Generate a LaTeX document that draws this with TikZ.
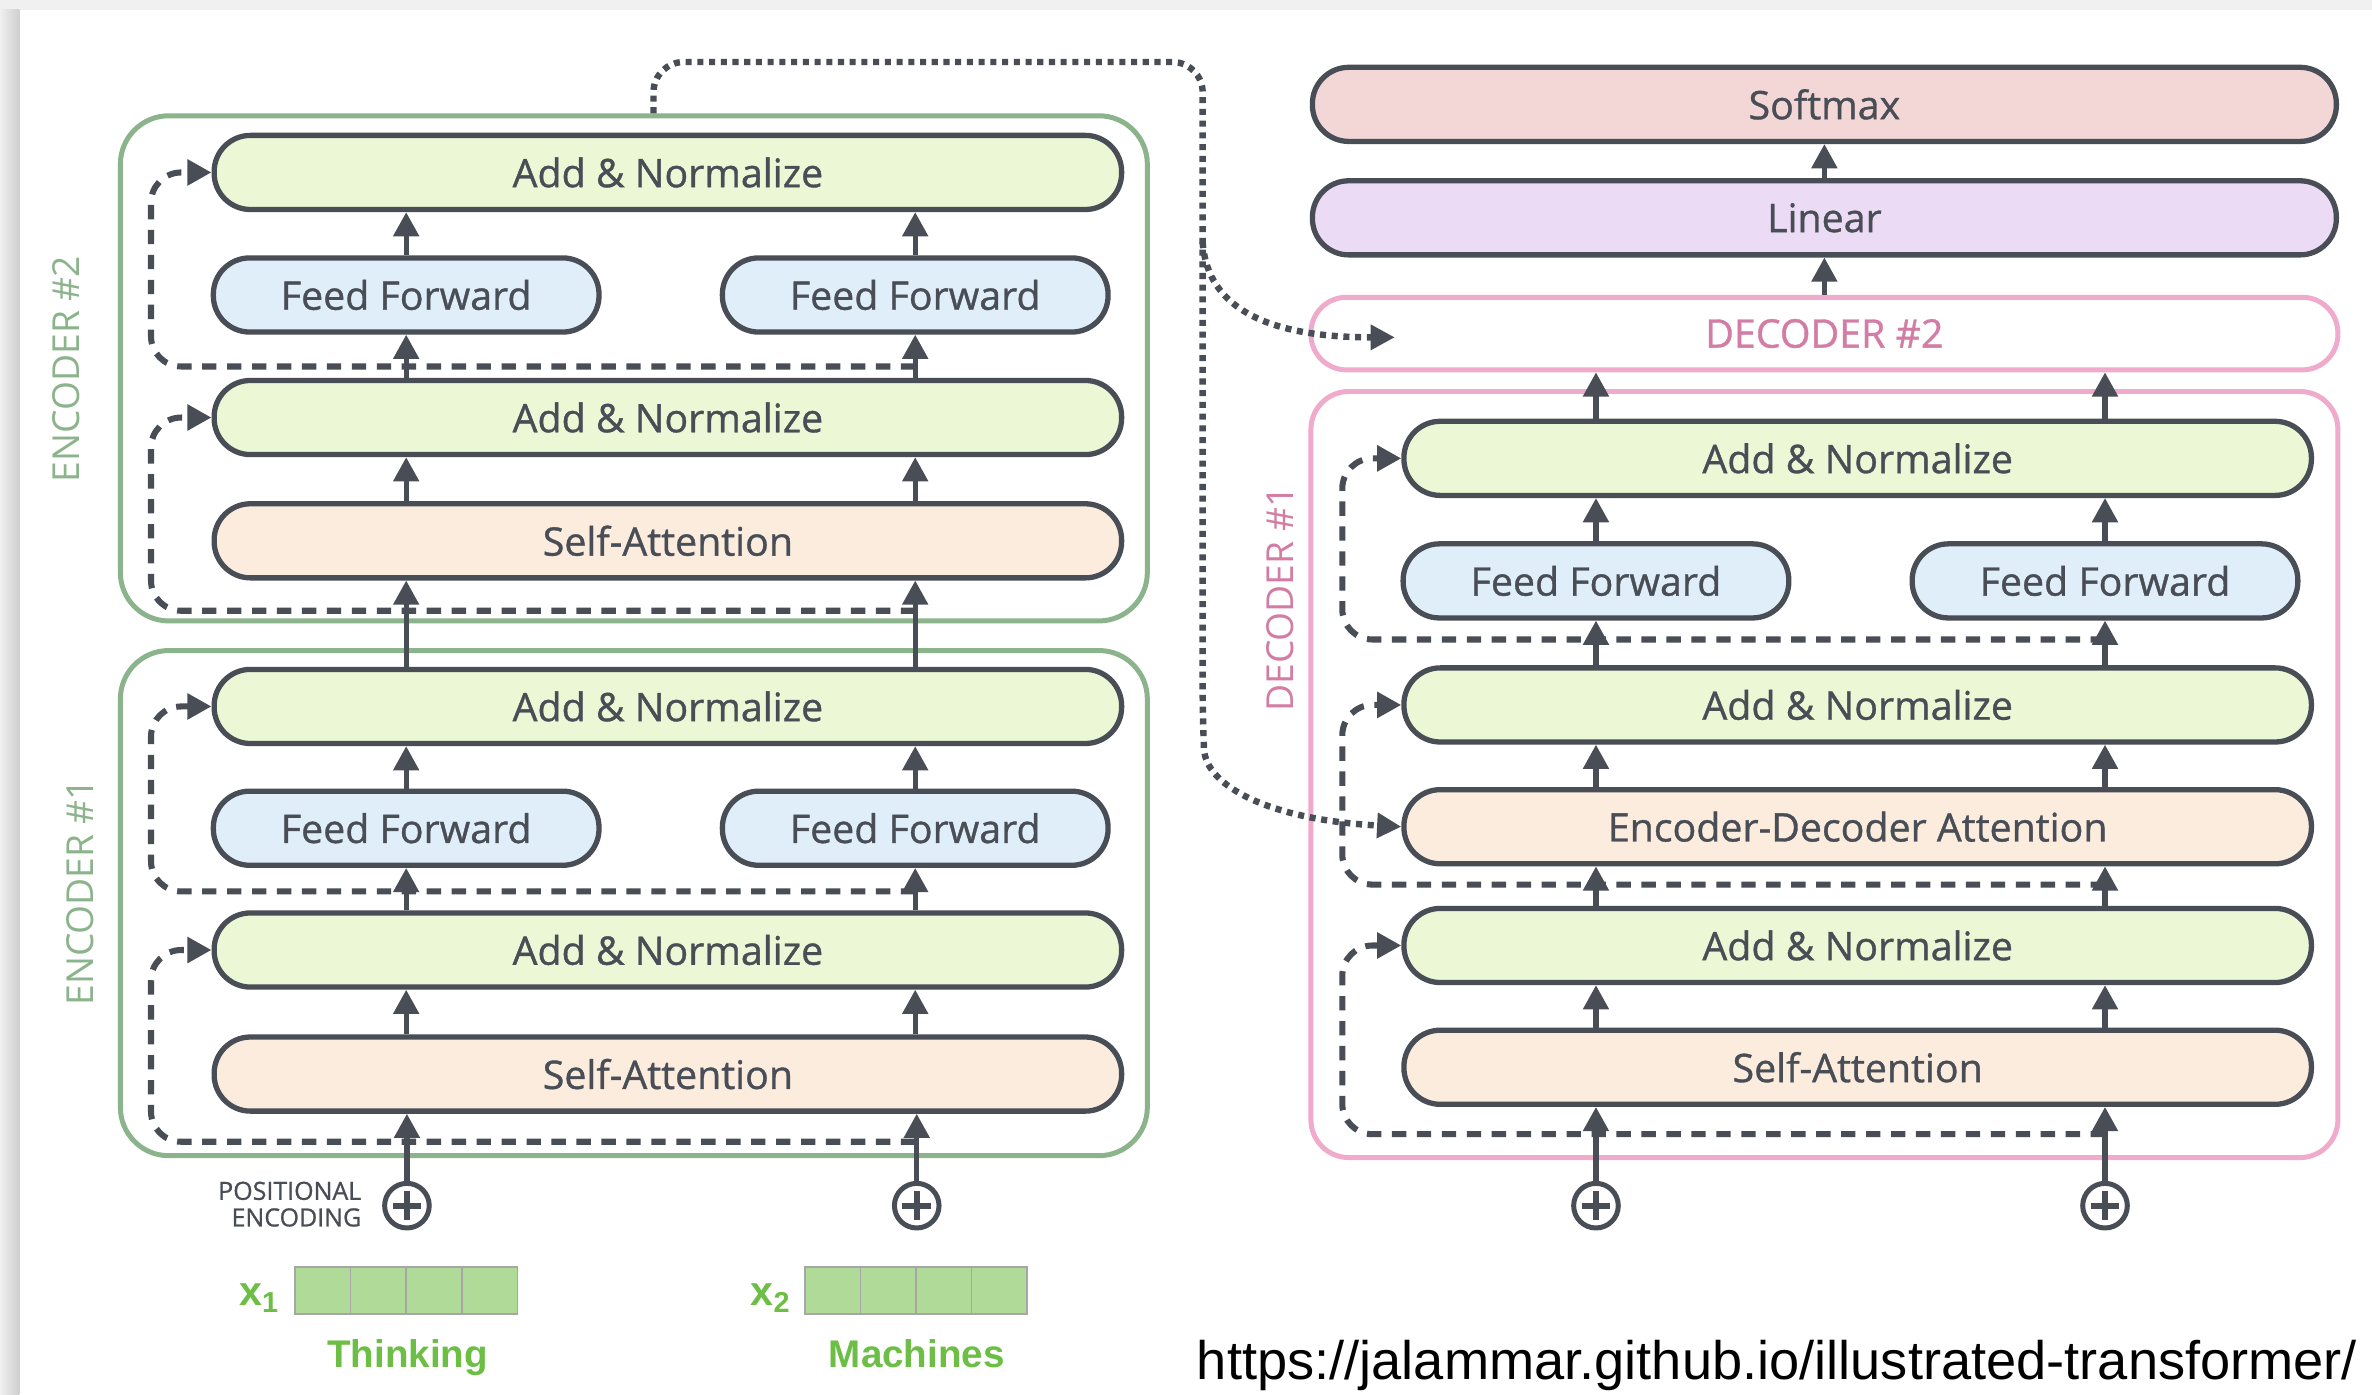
\documentclass[tikz,border=0pt]{standalone}
\usepackage{fontspec}
\setmainfont{Open Sans}
\newfontfamily\boxfont[FakeBold=0.9]{Open Sans}
\newfontfamily\urlfont{Liberation Sans}
\usetikzlibrary{arrows.meta}

\definecolor{linec}{RGB}{72,77,86}
\definecolor{addc}{RGB}{236,248,213}
\definecolor{ffc}{RGB}{224,238,249}
\definecolor{attc}{RGB}{251,236,222}
\definecolor{softc}{RGB}{243,214,214}
\definecolor{linc}{RGB}{236,219,245}
\definecolor{encc}{RGB}{140,180,140}
\definecolor{decc}{RGB}{240,170,204}
\definecolor{dectext}{RGB}{211,125,165}
\definecolor{vecc}{RGB}{176,218,152}
\definecolor{vectext}{RGB}{108,190,69}

\tikzset{
  pill/.style={draw=linec, line width=0.07cm, rounded corners=0.48cm, minimum height=0.98cm,
    inner sep=0pt, text=linec, font=\boxfont\fontsize{14.8}{16}\selectfont},
  addnorm/.style={pill, fill=addc, minimum width=12cm},
  selfatt/.style={pill, fill=attc, minimum width=12cm},
  ffwd/.style={pill, fill=ffc, minimum width=5.1cm},
  outbox/.style={pill, minimum width=13.54cm},
  encbox/.style={draw=encc, line width=0.066cm, rounded corners=0.64cm, minimum width=13.58cm,
    minimum height=6.68cm, inner sep=0pt},
  enclabel/.style={text=encc, rotate=90, font=\fontsize{14}{15}\selectfont},
  plusnode/.style={circle, draw=linec, line width=0.066cm, fill=white, minimum size=0.59cm, inner sep=0pt,
    path picture={\draw[linec, line width=0.075cm]
      (path picture bounding box.center) +(-0.19cm,0cm) -- +(0.19cm,0cm)
      (path picture bounding box.center) +(0cm,-0.19cm) -- +(0cm,0.19cm);}},
  cell/.style={draw=gray!70, line width=0.02cm, fill=vecc, minimum width=0.735cm, minimum height=0.62cm, inner sep=0pt},
  arr/.style={linec, line width=0.07cm, -{Triangle[length=0.32cm,width=0.33cm]}},
  resid/.style={linec, line width=0.08cm, dash pattern=on 0.19cm off 0.14cm, rounded corners=0.4cm,
    -{Triangle[length=0.32cm,width=0.33cm]}},
  dotline/.style={linec, line width=0.085cm, dash pattern=on 0.08cm off 0.075cm,
    -{Triangle[length=0.32cm,width=0.32cm]}}
}

\begin{document}
\begin{tikzpicture}[x=0.02cm,y=-0.02cm]
\useasboundingbox (0,0) rectangle (1568,922);
\fill[white] (0,0) rectangle (1568,922);
\fill[gray!12] (0,0) rectangle (1568,6.6);
\shade[left color=gray!12, right color=gray!38] (0,6.6) rectangle (12.8,922);

% encoder stack
\node[encbox] (enc2) at (419,243.5) {};
\node[encbox] (enc1) at (419,597) {};
\node[enclabel] at (44,244) {ENCODER \#2};
\node[enclabel] at (53,590) {ENCODER \#1};

\node[addnorm] (an2b) at (441.5,114) {Add \& Normalize};
\node[ffwd] (ff2l) at (268.5,195) {Feed Forward};
\node[ffwd] (ff2r) at (605,195) {Feed Forward};
\node[addnorm] (an2a) at (441.5,276) {Add \& Normalize};
\node[selfatt] (sa2) at (441.5,357.5) {Self-Attention};

\node[addnorm] (an1b) at (441.5,467) {Add \& Normalize};
\node[ffwd] (ff1l) at (268.5,547.5) {Feed Forward};
\node[ffwd] (ff1r) at (605,547.5) {Feed Forward};
\node[addnorm] (an1a) at (441.5,628) {Add \& Normalize};
\node[selfatt] (sa1) at (441.5,710) {Self-Attention};

\node[plusnode] (pe1) at (269,797) {};
\node[plusnode] (pe2) at (606,797) {};
\node[anchor=east, align=right, text=linec, font=\boxfont\fontsize{9.4}{10}\selectfont] (pelabel) at (245,796) {POSITIONAL\\ENCODING};

% input vectors
\foreach \i in {0,...,3} {
  \node[cell] (xa\i) at (213.4+\i*36.75,853) {};
  \node[cell] (xb\i) at (550.4+\i*36.75,853) {};
}
\node[anchor=base east, text=vectext, font=\urlfont\bfseries\fontsize{15.5}{16}\selectfont] (xone) at (191,863) {x\textsubscript{1}};
\node[anchor=base east, text=vectext, font=\urlfont\bfseries\fontsize{15.5}{16}\selectfont] (xtwo) at (529,863) {x\textsubscript{2}};
\node[anchor=base, text=vectext, font=\urlfont\bfseries\fontsize{14.5}{16}\selectfont] (think) at (269.5,904) {Thinking};
\node[anchor=base, text=vectext, font=\urlfont\bfseries\fontsize{14.5}{16}\selectfont] (mach) at (606,904) {Machines};

% decoder stack
\node[outbox, fill=softc] (softmax) at (1206,69) {Softmax};
\node[outbox, fill=linc] (linear) at (1206,144) {Linear};
\node[draw=decc, line width=0.066cm, rounded corners=0.47cm, minimum width=13.58cm, minimum height=0.96cm,
  inner sep=0pt, text=dectext, font=\boxfont\fontsize{14.8}{16}\selectfont] (dec2) at (1206,220.5) {DECODER \#2};
\node[draw=decc, line width=0.066cm, rounded corners=0.5cm, minimum width=13.58cm, minimum height=10.13cm,
  inner sep=0pt] (dec1) at (1206,512) {};
\node[enclabel, text=dectext] at (846,396) {DECODER \#1};
\coordinate (dec2in) at (922,223);

\node[addnorm] (ad3) at (1228,303) {Add \& Normalize};
\node[ffwd] (dffl) at (1055,384) {Feed Forward};
\node[ffwd] (dffr) at (1391.5,384) {Feed Forward};
\node[addnorm] (ad2) at (1228,466) {Add \& Normalize};
\node[selfatt] (eda) at (1228,546.5) {Encoder-Decoder Attention};
\node[addnorm] (ad1) at (1228,625) {Add \& Normalize};
\node[selfatt] (dsa) at (1228,705.5) {Self-Attention};

\node[plusnode] (pd1) at (1055,797) {};
\node[plusnode] (pd2) at (1391.5,797) {};

% residual connections
\draw[resid] ([yshift=0.15cm]an2a.north -| ff2r) -| ([xshift=-0.8cm]an2b.west) -- (an2b.west);
\draw[resid] ([yshift=-0.4cm]sa2.south -| ff2r) -| ([xshift=-0.8cm]an2a.west) -- (an2a.west);
\draw[resid] ([yshift=0.25cm]an1a.north -| ff1r) -| ([xshift=-0.8cm]an1b.west) -- (an1b.west);
\draw[resid] ([yshift=-0.37cm]sa1.south -| ff1r) -| ([xshift=-0.8cm]an1a.west) -- (an1a.west);
\draw[resid] ([yshift=-0.25cm]dffr.south) -| ([xshift=-0.78cm]ad3.west) -- (ad3.west);
\draw[resid] ([yshift=-0.24cm]eda.south -| dffr) -| ([xshift=-0.78cm]ad2.west) -- (ad2.west);
\draw[resid] ([yshift=-0.36cm]dsa.south -| dffr) -| ([xshift=-0.78cm]ad1.west) -- (ad1.west);

% main flow
\foreach \c in {l,r} {
  \draw[arr] (sa1.north -| ff1\c) -- (an1a.south -| ff1\c);
  \draw[arr] (an1a.north -| ff1\c) -- (ff1\c.south);
  \draw[arr] (ff1\c.north) -- (an1b.south -| ff1\c);
  \draw[arr] (an1b.north -| ff1\c) -- (sa2.south -| ff1\c);
  \draw[arr] (sa2.north -| ff2\c) -- (an2a.south -| ff2\c);
  \draw[arr] (an2a.north -| ff2\c) -- (ff2\c.south);
  \draw[arr] (ff2\c.north) -- (an2b.south -| ff2\c);
  \draw[arr] (dsa.north -| dff\c) -- (ad1.south -| dff\c);
  \draw[arr] (ad1.north -| dff\c) -- (eda.south -| dff\c);
  \draw[arr] (eda.north -| dff\c) -- (ad2.south -| dff\c);
  \draw[arr] (ad2.north -| dff\c) -- (dff\c.south);
  \draw[arr] (dff\c.north) -- (ad3.south -| dff\c);
  \draw[arr] (ad3.north -| dff\c) -- (dec2.south -| dff\c);
}
\draw[arr] (pe1.north) -- (sa1.south -| pe1);
\draw[arr] (pe2.north) -- (sa1.south -| pe2);
\draw[arr] (pd1.north) -- (dsa.south -| pd1);
\draw[arr] (pd2.north) -- (dsa.south -| pd2);
\draw[arr] (dec2.north) -- (linear.south);
\draw[arr] (linear.north) -- (softmax.south);

% encoder output to decoders
\draw[dotline, rounded corners=0.4cm] ([xshift=0.26cm]enc2.north) |- (795,41) -- (795,475)
  .. controls (797,520) and (840,542) .. (eda.west);
\draw[dotline] (795,160) .. controls (798,205) and (840,223) .. (dec2in);

\node[anchor=base west, font=\urlfont\fontsize{20.4}{24}\selectfont] (url) at (785,912) {https://jalammar.github.io/illustrated-transformer/};
\end{tikzpicture}
\end{document}
